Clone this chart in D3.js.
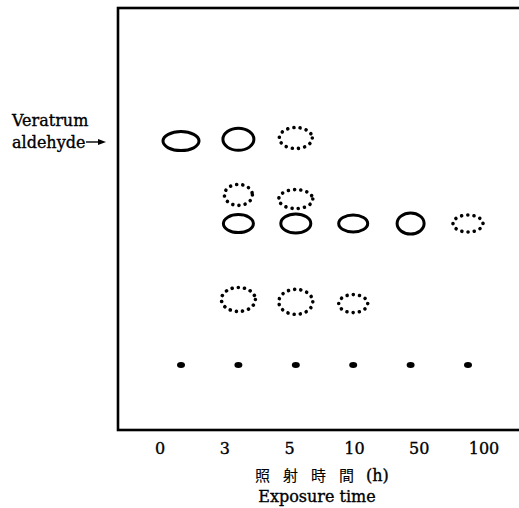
<!DOCTYPE html>
<html>
<head>
<meta charset="utf-8">
<script src="https://cdn.jsdelivr.net/npm/d3@7/dist/d3.min.js"></script>
<style>
  html, body { margin: 0; padding: 0; background: #fff; }
  svg { display: block; }
  text { fill: #000; stroke: #000; stroke-width: 0.35; }
</style>
</head>
<body>
<svg id="chart" width="519" height="508"></svg>
<script>
// Exposure times (h) written under each lane of the TLC plate
const exposureLabels = ["0", "3", "5", "10", "50", "100"];

// Spots developed on the plate: lane index, Rf value, and how they appear
const spotLane = [0, 1, 2, 1, 2, 1, 2, 3, 4, 5, 1, 2, 3];
const spotRf   = [0.649, 0.654, 0.658, 0.493, 0.481, 0.410, 0.410, 0.410, 0.410, 0.410, 0.190, 0.183, 0.178];
const spotKind = ["solid", "solid", "dotted", "dotted", "dotted", "solid", "solid", "solid", "solid", "dotted", "dotted", "dotted", "dotted"];

// Origin spots applied on every lane (Rf = 0)
const originLanes = [0, 1, 2, 3, 4, 5];

// Axis title pieces
const titleJa = ["照", "射", "時", "間"];
const titleUnit = "(h)";
const titleEn = "Exposure time";

// Drawn outline radii for each spot, in px (same order as the spots above)
const spotRadii = [[18, 9.5], [15.5, 11], [16.5, 10.5], [14, 10.5], [17, 9.5], [15, 9], [15, 9.5], [14.5, 8.5], [13.5, 10.5], [15, 8.5], [17, 12], [17, 12.5], [14.5, 9]];

const spots = spotLane.map((lane, i) => ({ lane, rf: spotRf[i], kind: spotKind[i], r: spotRadii[i] }));

const svg = d3.select("#chart");
const serif = "'DejaVu Serif', serif";

// Plate frame
const plate = { left: 118, top: 8, bottom: 430, right: 545 };

// Lanes across the plate, Rf measured up from the origin line
const laneX = d3.scalePoint().domain(d3.range(exposureLabels.length)).range([181, 468]);
const rfY = d3.scaleLinear().domain([0, 1]).range([365, 20]);
// Label positions along the lower edge
const labelX = d3.scalePoint().domain(exposureLabels).range([160, 484]);

svg.append("rect")
  .attr("x", plate.left).attr("y", plate.top)
  .attr("width", plate.right - plate.left).attr("height", plate.bottom - plate.top)
  .attr("fill", "none").attr("stroke", "#000").attr("stroke-width", 2.6);

// Spots
const g = svg.append("g");
g.selectAll("ellipse.spot").data(spots).join("ellipse")
  .attr("class", "spot")
  .attr("cx", d => laneX(d.lane))
  .attr("cy", d => rfY(d.rf))
  .attr("rx", d => d.r[0])
  .attr("ry", d => d.r[1])
  .attr("fill", "none")
  .attr("stroke", "#000")
  .attr("stroke-linecap", "round")
  .attr("stroke-width", d => d.kind === "solid" ? 3 : 3.6)
  .attr("stroke-dasharray", d => d.kind === "solid" ? null : "0.01 6.2");

// Origin spots
g.selectAll("ellipse.origin").data(originLanes).join("ellipse")
  .attr("class", "origin")
  .attr("cx", d => laneX(d))
  .attr("cy", rfY(0))
  .attr("rx", 4).attr("ry", 3)
  .attr("fill", "#000");

// Exposure time labels
svg.append("g").selectAll("text").data(exposureLabels).join("text")
  .attr("x", d => labelX(d))
  .attr("y", 454)
  .attr("text-anchor", "middle")
  .attr("font-family", serif)
  .attr("font-size", 16)
  .text(d => d);

// Axis titles
const jaX = d3.scalePoint().domain(titleJa).range([262.5, 346.5]);
svg.append("g").selectAll("text").data(titleJa).join("text")
  .attr("x", d => jaX(d)).attr("y", 481)
  .attr("text-anchor", "middle")
  .attr("font-family", "'Noto Sans CJK JP', sans-serif")
  .attr("font-size", 15)
  .style("stroke-width", 0.1)
  .text(d => d);
svg.append("text")
  .attr("x", 366).attr("y", 481)
  .attr("font-family", serif)
  .attr("font-size", 16)
  .text(titleUnit);

svg.append("text")
  .attr("x", 317).attr("y", 502)
  .attr("text-anchor", "middle")
  .attr("font-family", serif)
  .attr("font-size", 16)
  .text(titleEn);

// Reference compound marker
svg.append("text")
  .attr("x", 12).attr("y", 126)
  .attr("font-family", serif)
  .attr("font-size", 16)
  .text("Veratrum");
svg.append("text")
  .attr("x", 12).attr("y", 148)
  .attr("font-family", serif)
  .attr("font-size", 16)
  .text("aldehyde");

const arrowY = 142;
svg.append("line")
  .attr("x1", 86).attr("x2", 100)
  .attr("y1", arrowY).attr("y2", arrowY)
  .attr("stroke", "#000").attr("stroke-width", 1.4);
svg.append("path")
  .attr("d", `M106,${arrowY} L98,${arrowY - 3} L98,${arrowY + 3} Z`)
  .attr("fill", "#000");
</script>
</body>
</html>
